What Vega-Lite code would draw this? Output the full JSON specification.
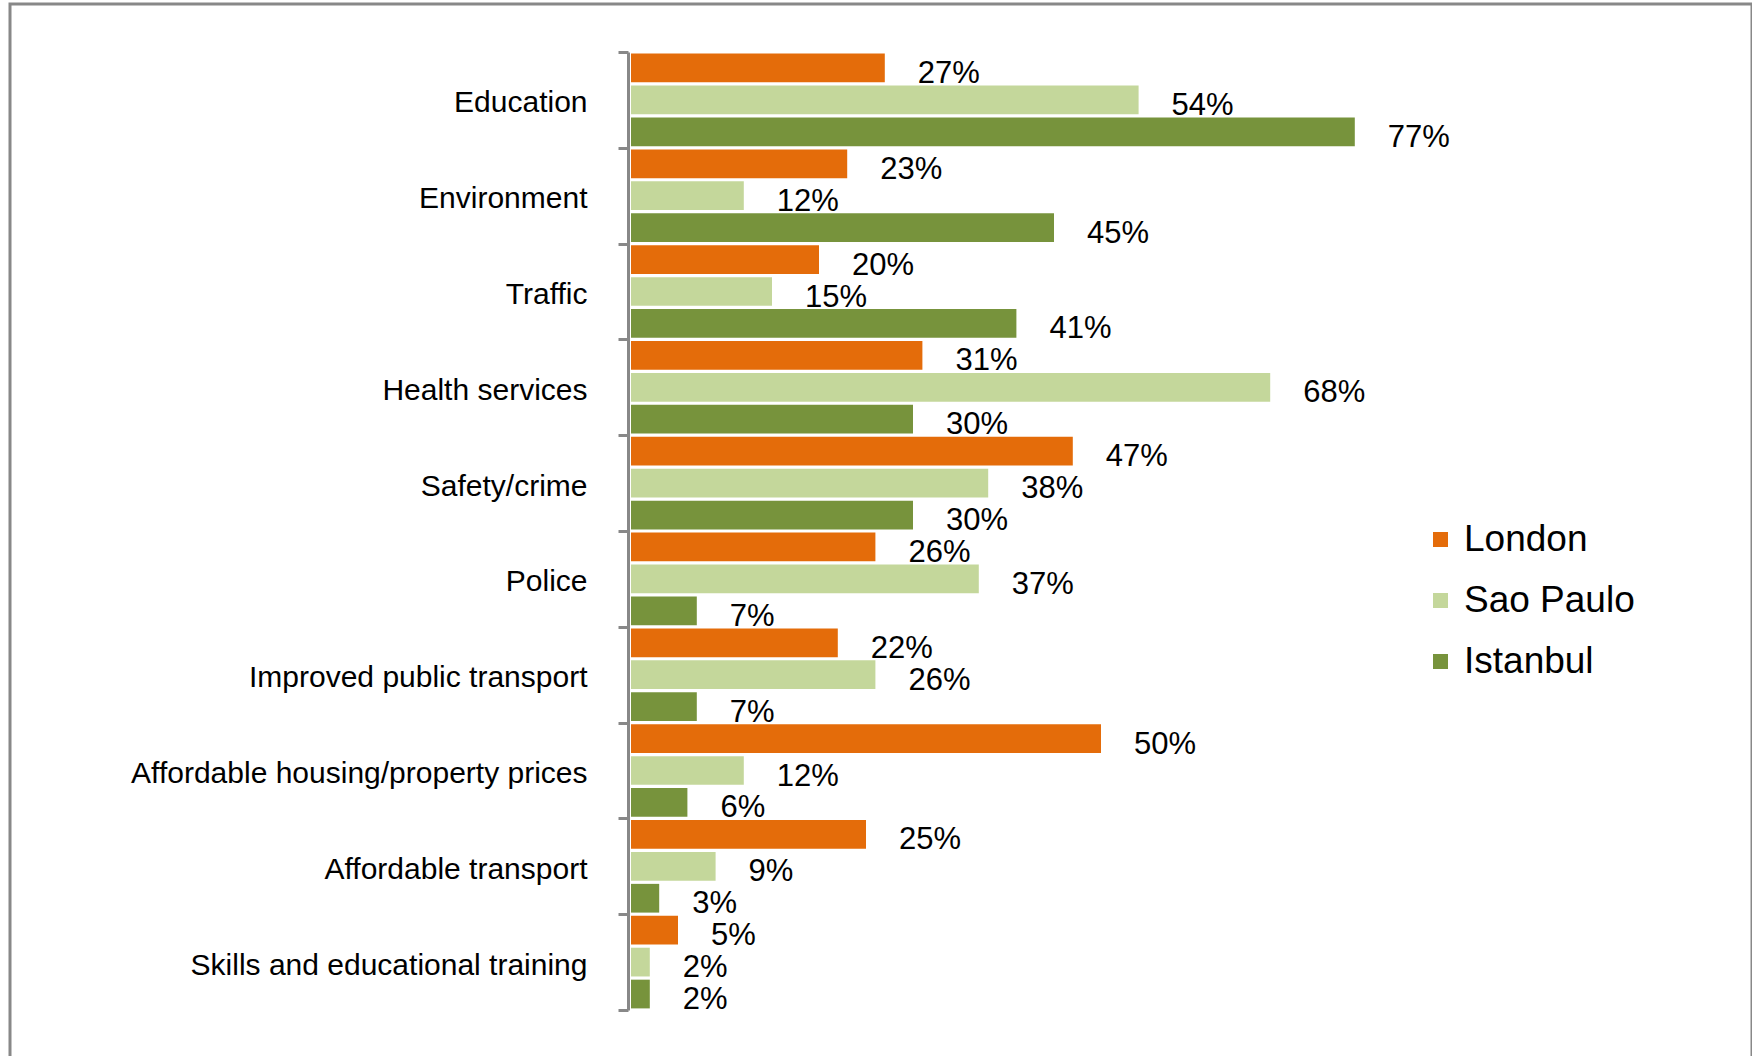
{
  "$schema": "https://vega.github.io/schema/vega-lite/v6.json",
  "width": 1742,
  "height": 1052,
  "padding": {"left": 10, "top": 4, "right": 0, "bottom": 0},
  "autosize": {"type": "none"},
  "background": "white",
  "config": {
    "font": "Liberation Sans",
    "view": {"stroke": "#888888", "strokeWidth": 3, "strokeDash": [2794, 1742, 1070]}
  },
  "data": {
    "values": [
      {"issue": "Education", "city": "London", "value": 0.27},
      {"issue": "Education", "city": "Sao Paulo", "value": 0.54},
      {"issue": "Education", "city": "Istanbul", "value": 0.77},
      {"issue": "Environment", "city": "London", "value": 0.23},
      {"issue": "Environment", "city": "Sao Paulo", "value": 0.12},
      {"issue": "Environment", "city": "Istanbul", "value": 0.45},
      {"issue": "Traffic", "city": "London", "value": 0.20},
      {"issue": "Traffic", "city": "Sao Paulo", "value": 0.15},
      {"issue": "Traffic", "city": "Istanbul", "value": 0.41},
      {"issue": "Health services", "city": "London", "value": 0.31},
      {"issue": "Health services", "city": "Sao Paulo", "value": 0.68},
      {"issue": "Health services", "city": "Istanbul", "value": 0.30},
      {"issue": "Safety/crime", "city": "London", "value": 0.47},
      {"issue": "Safety/crime", "city": "Sao Paulo", "value": 0.38},
      {"issue": "Safety/crime", "city": "Istanbul", "value": 0.30},
      {"issue": "Police", "city": "London", "value": 0.26},
      {"issue": "Police", "city": "Sao Paulo", "value": 0.37},
      {"issue": "Police", "city": "Istanbul", "value": 0.07},
      {"issue": "Improved public transport", "city": "London", "value": 0.22},
      {"issue": "Improved public transport", "city": "Sao Paulo", "value": 0.26},
      {"issue": "Improved public transport", "city": "Istanbul", "value": 0.07},
      {"issue": "Affordable housing/property prices", "city": "London", "value": 0.50},
      {"issue": "Affordable housing/property prices", "city": "Sao Paulo", "value": 0.12},
      {"issue": "Affordable housing/property prices", "city": "Istanbul", "value": 0.06},
      {"issue": "Affordable transport", "city": "London", "value": 0.25},
      {"issue": "Affordable transport", "city": "Sao Paulo", "value": 0.09},
      {"issue": "Affordable transport", "city": "Istanbul", "value": 0.03},
      {"issue": "Skills and educational training", "city": "London", "value": 0.05},
      {"issue": "Skills and educational training", "city": "Sao Paulo", "value": 0.02},
      {"issue": "Skills and educational training", "city": "Istanbul", "value": 0.02}
    ]
  },
  "encoding": {
    "y": {
      "field": "issue",
      "type": "nominal",
      "sort": null,
      "scale": {"range": [48, 1006], "paddingInner": 0, "paddingOuter": 0},
      "axis": {
        "title": null,
        "offset": -618,
        "tickBand": "extent",
        "tickSize": 10,
        "tickWidth": 3,
        "tickColor": "#888888",
        "domainColor": "#888888",
        "domainWidth": 3,
        "labelFontSize": 30,
        "labelColor": "#000000",
        "labelPadding": 31,
        "labelOffset": 3,
        "labelLimit": 700,
        "labelFont": "Liberation Sans"
      }
    },
    "yOffset": {
      "field": "city",
      "type": "nominal",
      "sort": ["London", "Sao Paulo", "Istanbul"],
      "scale": {"paddingInner": 0.1, "paddingOuter": 0.05}
    },
    "x": {
      "field": "value",
      "type": "quantitative",
      "scale": {"domain": [0, 1], "range": [621, 1561], "nice": false, "zero": true},
      "axis": null
    }
  },
  "layer": [
    {
      "mark": {"type": "bar"},
      "encoding": {
        "color": {
          "field": "city",
          "type": "nominal",
          "sort": ["London", "Sao Paulo", "Istanbul"],
          "scale": {"domain": ["London", "Sao Paulo", "Istanbul"], "range": ["#E46C0A", "#C4D79B", "#77933C"]},
          "legend": {
            "title": null,
            "orient": "none",
            "legendX": 1412,
            "legendY": 517,
            "padding": 0,
            "symbolType": "square",
            "symbolSize": 225,
            "symbolStrokeWidth": 0,
            "labelFontSize": 37,
            "labelColor": "#000000",
            "labelOffset": 5,
            "labelLimit": 400,
            "rowPadding": 23,
            "labelFont": "Liberation Sans"
          }
        }
      }
    },
    {
      "mark": {"type": "text", "align": "left", "baseline": "middle", "dx": 33, "dy": 6, "fontSize": 31, "color": "#000000", "font": "Liberation Sans"},
      "encoding": {
        "text": {"field": "value", "type": "quantitative", "format": ".0%"}
      }
    }
  ]
}
